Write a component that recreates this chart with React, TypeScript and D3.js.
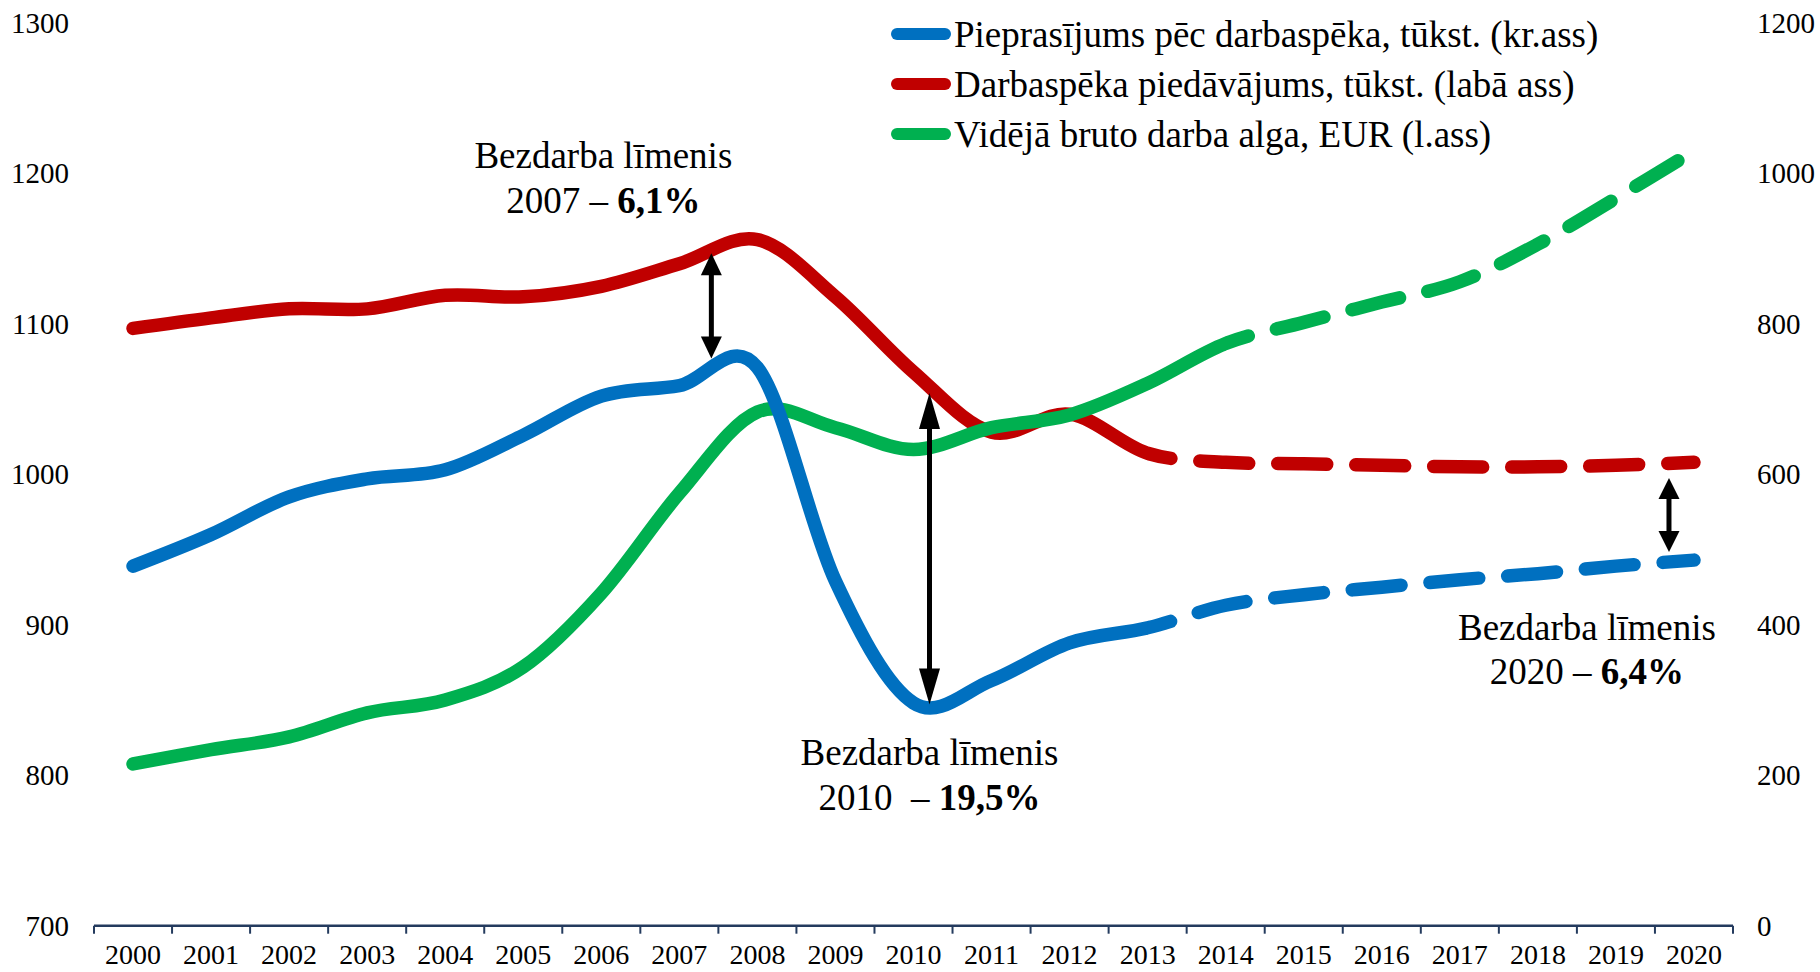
import React, { useEffect, useRef } from 'react';
import * as d3 from 'd3';

// categories
const years = [
  '2000', '2001', '2002', '2003', '2004', '2005', '2006', '2007', '2008', '2009', '2010',
  '2011', '2012', '2013', '2014', '2015', '2016', '2017', '2018', '2019', '2020',
];

// thousand people (left axis)
const laborDemand = [939, 960, 985, 997, 1003, 1026, 1052, 1059, 1071, 929, 848, 863, 888, 898, 913, 920, 925, 930, 934, 939, 943];
const laborSupply = [1097, 1104, 1110, 1110, 1119, 1118, 1125, 1140, 1156, 1118, 1068, 1028, 1040, 1014, 1008, 1007, 1006, 1005, 1005, 1006, 1008];
// EUR (right axis)
const avgWage = [215, 234, 251, 283, 300, 344, 442, 575, 683, 662, 633, 662, 679, 721, 774, 802, 829, 856, 906, 967, 1030];

// forecast (dashed) part starts at
const forecastFrom = ['2013', '2013', '2014'];

const leftTicks = [700, 800, 900, 1000, 1100, 1200, 1300];
const rightTicks = [0, 200, 400, 600, 800, 1000, 1200];

const seriesNames = [
  'Pieprasījums pēc darbaspēka, tūkst. (kr.ass)',
  'Darbaspēka piedāvājums, tūkst. (labā ass)',
  'Vidējā bruto darba alga, EUR (l.ass)',
];

const FONT = "'Liberation Serif', 'Times New Roman', serif";

const App = () => {
  const ref = useRef<SVGSVGElement>(null);

  useEffect(() => {
    const svg = d3.select(ref.current);
    svg.selectAll('*').remove();

    const width = 1820;
    const height = 972;

    const x = d3.scaleBand<string>().domain(years).range([94, 1733]).padding(0);
    const xc = (yr: string) => (x(yr) as number) + x.bandwidth() / 2;
    const yLeft = d3.scaleLinear().domain([700, 1300]).range([925.7, 23]);
    const yRight = d3.scaleLinear().domain([0, 1200]).range([925.7, 23]);
    const axisY = yLeft(700);

    svg.append('rect').attr('width', width).attr('height', height).attr('fill', '#fff');

    // left axis labels
    svg.append('g')
      .selectAll('text')
      .data(leftTicks)
      .enter().append('text')
      .attr('x', 69)
      .attr('y', d => yLeft(d) + 10)
      .attr('text-anchor', 'end')
      .attr('font-family', FONT)
      .attr('font-size', 29)
      .text(d => d);

    // right axis labels
    svg.append('g')
      .selectAll('text')
      .data(rightTicks)
      .enter().append('text')
      .attr('x', 1757)
      .attr('y', d => yRight(d) + 10)
      .attr('font-family', FONT)
      .attr('font-size', 29)
      .text(d => d);

    // x axis: line, ticks between categories, labels
    const axisColor = '#243B5E';
    const axisG = svg.append('g');
    axisG.append('line')
      .attr('x1', x.range()[0]).attr('x2', x.range()[1])
      .attr('y1', axisY).attr('y2', axisY)
      .attr('stroke', axisColor).attr('stroke-width', 2.5);
    const bounds = years.map(d => x(d) as number).concat([x.range()[1]]);
    axisG.selectAll('line.tick')
      .data(bounds)
      .enter().append('line')
      .attr('class', 'tick')
      .attr('x1', d => d).attr('x2', d => d)
      .attr('y1', axisY).attr('y2', axisY + 8)
      .attr('stroke', axisColor).attr('stroke-width', 2);
    axisG.selectAll('text')
      .data(years)
      .enter().append('text')
      .attr('x', d => xc(d))
      .attr('y', axisY + 38)
      .attr('text-anchor', 'middle')
      .attr('font-family', FONT)
      .attr('font-size', 28)
      .text(d => d);

    // series, drawn red, green, blue (blue on top)
    const series = [
      { values: laborSupply, y: yLeft, color: '#C00000', split: forecastFrom[1] },
      { values: avgWage, y: yRight, color: '#00B050', split: forecastFrom[2] },
      { values: laborDemand, y: yLeft, color: '#0070C0', split: forecastFrom[0] },
    ];

    const defs = svg.append('defs');
    const lengthAtX = (node: SVGPathElement, target: number) => {
      let lo = 0;
      let hi = node.getTotalLength();
      for (let i = 0; i < 40; i++) {
        const mid = (lo + hi) / 2;
        if (node.getPointAtLength(mid).x < target) lo = mid; else hi = mid;
      }
      return lo;
    };

    series.forEach((s, i) => {
      const line = d3.line<number>()
        .x((_, j) => xc(years[j]))
        .y(d => s.y(d))
        .curve(d3.curveCatmullRom.alpha(0));
      const splitX = xc(s.split);

      defs.append('clipPath').attr('id', `solid-${i}`)
        .append('rect').attr('x', 0).attr('y', 0).attr('width', splitX + 0.5).attr('height', height);
      defs.append('clipPath').attr('id', `dash-${i}`)
        .append('rect').attr('x', splitX).attr('y', 0).attr('width', width - splitX).attr('height', height);

      svg.append('path')
        .attr('d', line(s.values))
        .attr('fill', 'none')
        .attr('stroke', s.color)
        .attr('stroke-width', 13.5)
        .attr('stroke-linecap', 'round')
        .attr('stroke-linejoin', 'round')
        .attr('clip-path', `url(#solid-${i})`);

      const dashed = svg.append('path')
        .attr('d', line(s.values))
        .attr('fill', 'none')
        .attr('stroke', s.color)
        .attr('stroke-width', 13.5)
        .attr('stroke-linecap', 'round')
        .attr('stroke-dasharray', '49 29')
        .attr('clip-path', `url(#dash-${i})`);
      const L = lengthAtX(dashed.node() as SVGPathElement, splitX);
      dashed.attr('stroke-dashoffset', 25.5 - L);
    });

    // double-headed arrows (unemployment gaps)
    const arrows = [
      { year: '2007', dx: 32, top: 1147, bottom: 1077, head: 22 },
      { year: '2010', dx: 16, top: 1054, bottom: 847, head: 36 },
      { year: '2020', dx: -25, top: 997.6, bottom: 948.4, head: 21 },
    ];
    arrows.forEach(a => {
      const ax = xc(a.year) + a.dx;
      const y1 = yLeft(a.top);
      const y2 = yLeft(a.bottom);
      const g = svg.append('g');
      g.append('line')
        .attr('x1', ax).attr('x2', ax)
        .attr('y1', y1 + a.head - 2).attr('y2', y2 - a.head + 2)
        .attr('stroke', '#000').attr('stroke-width', 5);
      g.append('path')
        .attr('d', `M${ax},${y1}L${ax - 10.5},${y1 + a.head}L${ax + 10.5},${y1 + a.head}Z`)
        .attr('fill', '#000');
      g.append('path')
        .attr('d', `M${ax},${y2}L${ax - 10.5},${y2 - a.head}L${ax + 10.5},${y2 - a.head}Z`)
        .attr('fill', '#000');
    });

    // annotation texts
    const notes = [
      { year: '2007', dx: -76, y1: 1203.7, y2: 1173.8, lead: '2007 – ', value: '6,1%' },
      { year: '2010', dx: 16, y1: 806.8, y2: 777, lead: '2010\u00A0 – ', value: '19,5%' },
      { year: '2020', dx: -107, y1: 890, y2: 860.7, lead: '2020 – ', value: '6,4%' },
    ];
    notes.forEach(n => {
      const cx = xc(n.year) + n.dx;
      svg.append('text')
        .attr('x', cx).attr('y', yLeft(n.y1))
        .attr('text-anchor', 'middle')
        .attr('font-family', FONT).attr('font-size', 37)
        .text('Bezdarba līmenis');
      const t = svg.append('text')
        .attr('x', cx).attr('y', yLeft(n.y2))
        .attr('text-anchor', 'middle')
        .attr('font-family', FONT).attr('font-size', 37);
      t.append('tspan').text(n.lead);
      t.append('tspan').attr('font-weight', 'bold').text(n.value);
    });

    // legend
    const legendColors = ['#0070C0', '#C00000', '#00B050'];
    const legend = svg.append('g');
    seriesNames.forEach((name, i) => {
      const ly = 34 + i * 50;
      legend.append('line')
        .attr('x1', 897).attr('x2', 945)
        .attr('y1', ly).attr('y2', ly)
        .attr('stroke', legendColors[i])
        .attr('stroke-width', 12)
        .attr('stroke-linecap', 'round');
      legend.append('text')
        .attr('x', 954).attr('y', ly + 13)
        .attr('font-family', FONT).attr('font-size', 37)
        .text(name);
    });
  }, []);

  return (
    <div style={{ position: 'absolute', left: 0, top: 0 }}>
      <svg ref={ref} width={1820} height={972}></svg>
    </div>
  );
};

export default App;
